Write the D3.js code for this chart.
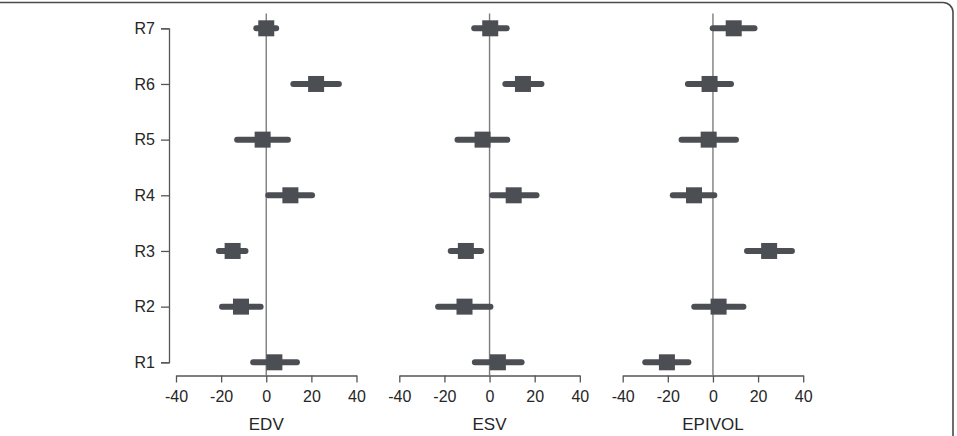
<!DOCTYPE html>
<html>
<head>
<meta charset="utf-8">
<script src="https://cdn.jsdelivr.net/npm/d3@7"></script>
<style>
  body { margin: 0; background: #fff; }
  text { font-family: "Liberation Sans", Arial, Helvetica, sans-serif; fill: #262626; }
</style>
</head>
<body>
<div id="chart"></div>
<script>
// chart data
var regions = ["R1", "R2", "R3", "R4", "R5", "R6", "R7"];
var panels = ["EDV", "ESV", "EPIVOL"];
var xTicks = [-40, -20, 0, 20, 40];

// point estimates and intervals, R1..R7
var edvMean = [3.6, -11.2, -14.9, 10.7, -1.6, 22.1, 0];
var edvLow  = [-5.8, -19.6, -21, 0.9, -12.9, 12, -4.4];
var edvHigh = [13.6, -2.5, -9.2, 20.3, 9.6, 32.2, 4.4];

var esvMean = [3.7, -11.1, -10.5, 10.7, -3.1, 14.8, 0.3];
var esvLow  = [-6.5, -22.8, -17.2, 1.2, -14.2, 7, -6.8];
var esvHigh = [14.2, 0.4, -3.7, 20.8, 7.9, 23, 7.6];

var epiMean = [-20.4, 2.5, 24.9, -8.4, -1.9, -1.5, 9.2];
var epiLow  = [-30, -8.3, 15.1, -17.8, -13.9, -11.1, -0.1];
var epiHigh = [-10.9, 13.5, 35, 0.6, 10.2, 8, 18.4];

var series = [
  {mean: edvMean, low: edvLow, high: edvHigh},
  {mean: esvMean, low: esvLow, high: esvHigh},
  {mean: epiMean, low: epiLow, high: epiHigh}
];

var svgWidth = 957, svgHeight = 436;
var panelLeft = [176, 399.3, 622.7];
var panelWidth = 180.5;
var axisY = 375.5;
var markColor = "#4b4e53";

var svg = d3.select("#chart")
  .append("svg")
  .attr("width", svgWidth)
  .attr("height", svgHeight);

// frame: top line + rounded right edge
svg.append("path")
  .attr("d", "M0,2.5 H943 A10,10 0 0 1 953,12.5 V436")
  .attr("fill", "none")
  .attr("stroke", "#4a4a4a")
  .attr("stroke-width", 1.6);

var yScale = d3.scalePoint()
  .domain(regions)
  .range([362.3, 28.3]);

// y axis on the left
var yAxisG = svg.append("g")
  .attr("transform", "translate(169,0)")
  .call(d3.axisLeft(yScale).tickSize(8).tickPadding(6));
yAxisG.select(".domain").attr("stroke", "#555").attr("stroke-width", 1.3);
yAxisG.selectAll(".tick line").attr("stroke", "#555").attr("stroke-width", 1.3);
yAxisG.selectAll(".tick text")
  .style("font-size", "16px")
  .attr("fill", "#262626");

panels.forEach(function(name, i) {
  var s = series[i];
  var x = d3.scaleLinear()
    .domain([-40, 40])
    .range([panelLeft[i], panelLeft[i] + panelWidth]);

  var g = svg.append("g");

  // x axis
  var xAxisG = g.append("g")
    .attr("transform", `translate(0, ${axisY})`)
    .call(d3.axisBottom(x).tickValues(xTicks).tickSize(7).tickPadding(8).tickSizeOuter(0));
  xAxisG.select(".domain").attr("stroke", "#555").attr("stroke-width", 1.3);
  xAxisG.selectAll(".tick line").attr("stroke", "#555").attr("stroke-width", 1.3);
  xAxisG.selectAll(".tick text")
    .style("font-size", "16px")
    .attr("fill", "#262626")
    .text(d => d < 0 ? "-" + Math.abs(d) : d);

  // axis title
  g.append("text")
    .attr("x", x(0))
    .attr("y", 429.5)
    .attr("text-anchor", "middle")
    .style("font-size", "17px")
    .text(name);

  // zero reference line
  g.append("line")
    .attr("x1", x(0)).attr("x2", x(0))
    .attr("y1", 13.5).attr("y2", axisY)
    .attr("stroke", "#7d7d7d")
    .attr("stroke-width", 1.4);

  // confidence intervals
  g.selectAll(".ci")
    .data(regions)
    .enter()
    .append("line")
    .attr("class", "ci")
    .attr("x1", (d, j) => x(s.low[j]))
    .attr("x2", (d, j) => x(s.high[j]))
    .attr("y1", d => yScale(d))
    .attr("y2", d => yScale(d))
    .attr("stroke", markColor)
    .attr("stroke-width", 6)
    .attr("stroke-linecap", "round");

  // point estimates
  var sq = 16;
  g.selectAll(".pt")
    .data(regions)
    .enter()
    .append("rect")
    .attr("class", "pt")
    .attr("x", (d, j) => x(s.mean[j]) - sq / 2)
    .attr("y", d => yScale(d) - sq / 2)
    .attr("width", sq)
    .attr("height", sq)
    .attr("fill", markColor);
});
</script>
</body>
</html>
